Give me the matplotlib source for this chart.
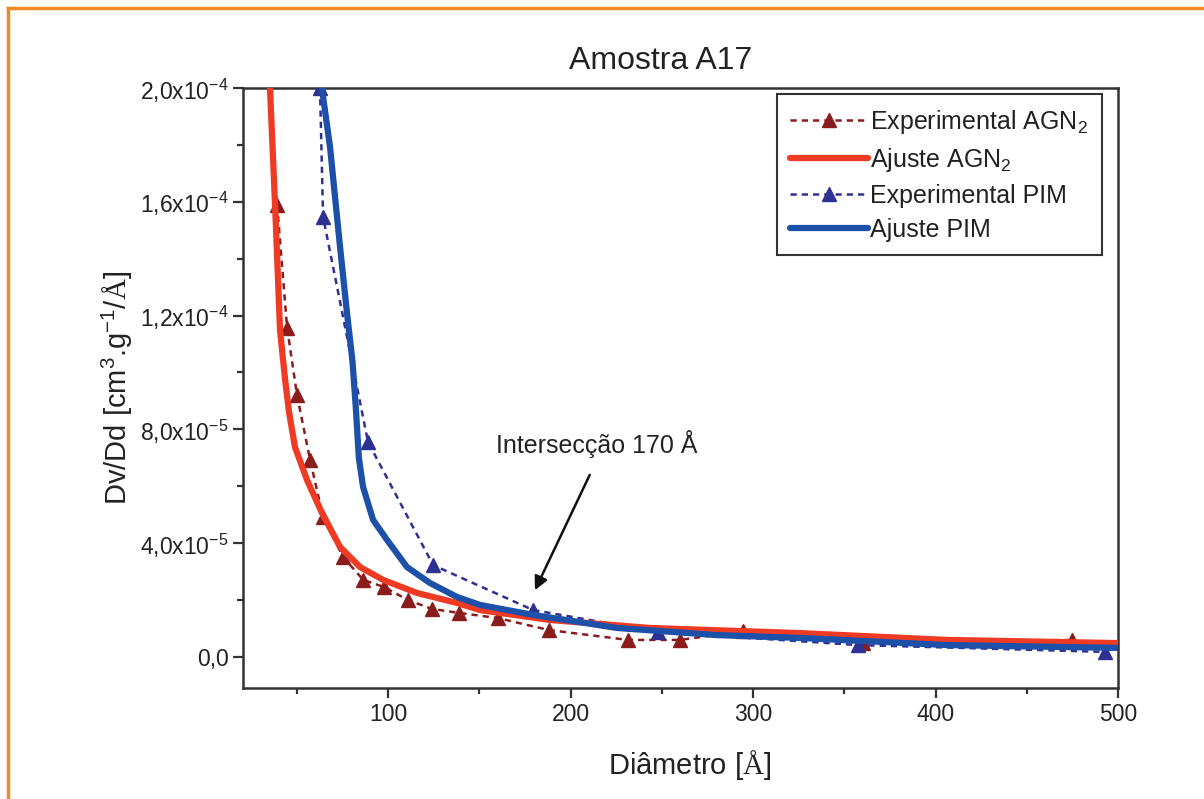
import matplotlib
matplotlib.use("Agg")
import matplotlib.pyplot as plt
from matplotlib.lines import Line2D
from matplotlib.ticker import FixedLocator, MultipleLocator

plt.rcParams['font.family'] = ['Liberation Sans', 'DejaVu Sans']
plt.rcParams['mathtext.fontset'] = 'custom'
plt.rcParams['mathtext.rm'] = 'Liberation Serif'
plt.rcParams['mathtext.sf'] = 'Liberation Sans'
plt.rcParams['mathtext.it'] = 'Liberation Sans:italic'

# experimental AGN2 points
agn_x = [39.2, 44.7, 50.1, 57.3, 64.4, 75.4, 86.4, 97.8, 111, 124, 139, 160,
         188, 231.5, 260, 294.5, 360, 475]
agn_y = [1.59e-4, 1.157e-4, 0.921e-4, 0.692e-4, 0.492e-4, 0.351e-4, 0.271e-4,
         0.246e-4, 0.200e-4, 0.169e-4, 0.155e-4, 0.137e-4, 0.095e-4, 0.060e-4,
         0.060e-4, 0.091e-4, 0.050e-4, 0.060e-4]

# fit AGN2
agn_fit_x = [35.3, 38.1, 40.8, 43.6, 45.8, 49.0, 55.6, 63.8, 73.7, 84.7, 97.3,
             115.9, 137.8, 150.4, 188.8, 243.6, 325.8, 406.3, 499.5]
agn_fit_y = [2.0e-4, 1.589e-4, 1.149e-4, 0.974e-4, 0.858e-4, 0.738e-4, 0.622e-4,
             0.506e-4, 0.387e-4, 0.316e-4, 0.271e-4, 0.225e-4, 0.190e-4, 0.165e-4,
             0.130e-4, 0.102e-4, 0.084e-4, 0.060e-4, 0.049e-4]

# experimental PIM points
pim_x = [62.7, 64.4, 89.0, 124.7, 179.5, 248, 357.5, 492.9]
pim_y = [2.0e-4, 1.547e-4, 0.756e-4, 0.323e-4, 0.165e-4, 0.088e-4, 0.042e-4, 0.018e-4]

# fit PIM
pim_fit_x = [63.8, 68.2, 73.7, 77.5, 80.5, 82.3, 84.0, 86.3, 91.8, 99.5, 110.4, 123.0,
             137.8, 150.4, 179.5, 225.5, 280.3, 325.8, 406.3, 499.5]
pim_fit_y = [1.997e-4, 1.793e-4, 1.441e-4, 1.209e-4, 1.04e-4, 0.88e-4, 0.70e-4,
             0.598e-4, 0.482e-4, 0.411e-4, 0.316e-4, 0.260e-4, 0.211e-4, 0.183e-4,
             0.148e-4, 0.102e-4, 0.077e-4, 0.067e-4, 0.042e-4, 0.032e-4]

y_ticks = [0.0, 4e-5, 8e-5, 1.2e-4, 1.6e-4, 2e-4]
y_tick_labels = ['0,0', r'4,0x10$^{\mathsf{-5}}$', r'8,0x10$^{\mathsf{-5}}$',
                 r'1,2x10$^{\mathsf{-4}}$', r'1,6x10$^{\mathsf{-4}}$', r'2,0x10$^{\mathsf{-4}}$']
x_ticks = [100, 200, 300, 400, 500]

c_agn = '#8b1c1c'
c_agn_fit = '#ef3b24'
c_pim = '#2e3192'
c_pim_fit = '#1d50a8'
axc = '#333333'
txt = '#222222'

fig = plt.figure(figsize=(12.04, 7.99), dpi=100)
ax = fig.add_axes([0.2018, 0.1389, 0.7268, 0.751])

ax.plot(agn_x, agn_y, '--', color=c_agn, lw=1.8, dashes=(2.5, 2),
        marker='^', ms=10, label=r'Experimental AGN$_{\mathsf{2}}$', zorder=3)
ax.plot(agn_fit_x, agn_fit_y, '-', color=c_agn_fit, lw=4.5,
        label=r'Ajuste AGN$_{\mathsf{2}}$', zorder=4, solid_capstyle='round')
ax.plot(pim_x, pim_y, '--', color=c_pim, lw=1.8, dashes=(2.5, 2),
        marker='^', ms=10, label='Experimental PIM', zorder=3)
ax.plot(pim_fit_x, pim_fit_y, '-', color=c_pim_fit, lw=4.5,
        label='Ajuste PIM', zorder=5, solid_capstyle='round')

ax.set_xlim(20.5, 500)
ax.set_ylim(-1.09e-5, 2e-4)

ax.xaxis.set_major_locator(FixedLocator(x_ticks))
ax.xaxis.set_minor_locator(MultipleLocator(50))
ax.yaxis.set_major_locator(FixedLocator(y_ticks))
ax.set_yticklabels(y_tick_labels)
ax.yaxis.set_minor_locator(FixedLocator([2e-5, 6e-5, 1e-4, 1.4e-4, 1.8e-4]))

ax.tick_params(which='both', direction='out', colors=axc, labelcolor=txt,
               top=False, right=False, width=1.6)
ax.tick_params(which='major', length=7, labelsize=16.5)
ax.tick_params(which='minor', length=4)
for s in ax.spines.values():
    s.set_color(axc)
    s.set_linewidth(1.8)

ax.set_title('Amostra A17', fontsize=23, pad=14, color=txt, x=0.477)
ax.set_xlabel(r'Diâmetro [$\mathrm{\AA}$]', fontsize=21, labelpad=16, color=txt)
ax.xaxis.label.set_x(0.51)
ax.set_ylabel(r'Dv/Dd [cm$^{\mathsf{3}}$.g$^{\mathsf{-1}}$/$\mathrm{\AA}$]',
              fontsize=21, labelpad=3, color=txt)

ax.text(214.5, 0.70e-4, 'Intersecção 170 Å', ha='center', va='bottom',
        fontsize=18, color=txt)
ax.annotate('', xy=(180.5, 0.235e-4), xytext=(210.5, 0.64e-4),
            arrowprops=dict(arrowstyle='-|>', color='#111111', lw=1.8,
                            mutation_scale=20, shrinkA=0, shrinkB=0))

leg = ax.legend(loc='upper right', bbox_to_anchor=(0.982, 0.99), borderaxespad=0,
                fontsize=18, handlelength=3.1, handletextpad=0.1, labelspacing=0.4,
                borderpad=0.55, fancybox=False, framealpha=1, edgecolor=axc)
leg.get_frame().set_linewidth(1.5)
for t in leg.get_texts():
    t.set_color(txt)

# orange frame around the figure (top and left)
fig.add_artist(Line2D([8 / 1204, 8 / 1204], [0, 1 - 8 / 799], color='#f0882a',
                      lw=2.5, transform=fig.transFigure))
fig.add_artist(Line2D([8 / 1204, 1], [1 - 8 / 799, 1 - 8 / 799], color='#f0882a',
                      lw=2.5, transform=fig.transFigure))

fig.savefig('out.png', dpi=100)
